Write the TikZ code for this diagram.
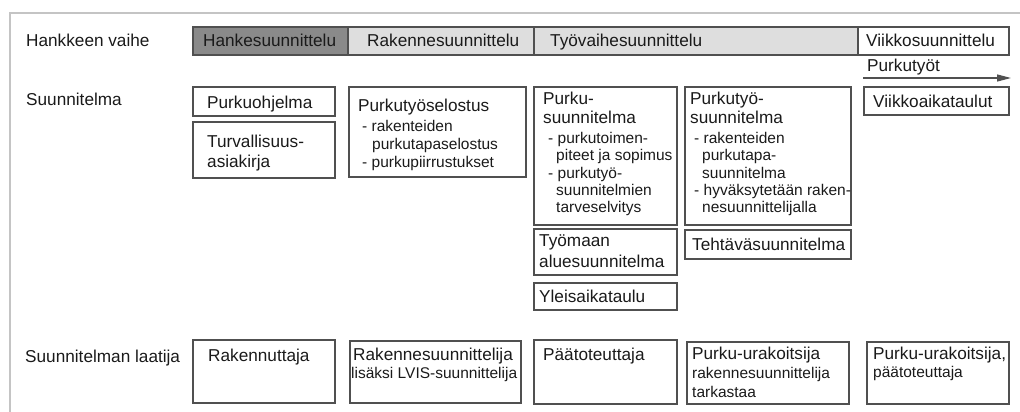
\documentclass[tikz,border=0pt]{standalone}
\usepackage{fontspec}
\setmainfont{Liberation Sans}
\usetikzlibrary{arrows.meta}
\definecolor{framecol}{HTML}{C4C4C4}
\definecolor{edgecol}{HTML}{505050}
\definecolor{txtcol}{HTML}{1A1A1A}
\definecolor{hankegray}{HTML}{8A8A8A}
\definecolor{lightband}{HTML}{DEDEDE}
\tikzset{
  box/.style={draw=edgecol, line width=1.1pt, inner sep=0pt, outer sep=0pt, anchor=north west},
  mt/.style={anchor=base west, inner sep=0pt, text=txtcol, font=\fontsize{17.2}{19}\selectfont},
  st/.style={anchor=base west, inner sep=0pt, text=txtcol, font=\fontsize{15.5}{18}\selectfont},
}
\newcommand\bx[5]{\node[box, minimum width={#4-#2}, minimum height={#5-#3}] (#1) at (#2,#3) {};}
\begin{document}
\begin{tikzpicture}[x=1pt,y=-1pt]
\useasboundingbox (0,0) rectangle (1020,412);
% outer frame
\coordinate (fa) at (1020,13);
\coordinate (fb) at (10,13);
\coordinate (fc) at (10,412);
\draw[framecol, line width=1.3pt] (fa) -- (fb) -- (fc);

% row labels
\node[mt] (l1) at (26,47) {Hankkeen vaihe};
\node[mt] (l2) at (26,106) {Suunnitelma};
\node[mt] (l3) at (25,362) {Suunnitelman laatija};

% phase band
\node[box, fill=hankegray, minimum width=155, minimum height=28] (ph1) at (193,27) {};
\node[box, fill=lightband, minimum width=186, minimum height=28] (ph2) at (348,27) {};
\node[box, fill=lightband, minimum width=324, minimum height=28] (ph3) at (534,27) {};
\node[box, fill=white, minimum width=151, minimum height=28] (ph4) at (858,27) {};
\node[mt] (t1) at (203,47) {Hankesuunnittelu};
\node[mt] (t2) at (367,47) {Rakennesuunnittelu};
\node[mt] (t3) at (550,47) {Työvaihesuunnittelu};
\node[mt] (t4) at (866,47) {Viikkosuunnittelu};

% Purkutyot arrow
\node[mt] (pk) at (867,72) {Purkutyöt};
\coordinate (as) at (863,78);
\coordinate (ae) at (1011,78);
\draw[edgecol, line width=1.3pt, -{Triangle[length=14pt,width=7pt]}] (as) -- (ae);

% row 2
\bx{bpo}{193}{87}{335}{116}
\node[mt] (po) at (207,108) {Purkuohjelma};
\bx{btu}{193}{122}{335}{178}
\node[mt] (tu1) at (207,147) {Turvallisuus-};
\node[mt] (tu2) at (207,167) {asiakirja};

\bx{bps}{349}{87}{526}{177}
\node[mt] (ps0) at (358,111) {Purkutyöselostus};
\node[st] (ps1) at (362,131) {- rakenteiden};
\node[st] (ps2) at (372,149) {purkutapaselostus};
\node[st] (ps3) at (362,167) {- purkupiirrustukset};

\bx{bpu}{534}{87}{677}{225}
\node[mt] (pu0) at (543,104) {Purku-};
\node[mt] (pu1) at (543,123) {suunnitelma};
\node[st] (pu2) at (548,143) {- purkutoimen-};
\node[st] (pu3) at (556,160) {piteet ja sopimus};
\node[st] (pu4) at (548,178) {- purkutyö-};
\node[st] (pu5) at (556,195) {suunnitelmien};
\node[st] (pu6) at (556,212) {tarveselvitys};

\bx{bpt}{685}{87}{851}{225}
\node[mt] (pt0) at (690,104) {Purkutyö-};
\node[mt] (pt1) at (690,123) {suunnitelma};
\node[st] (pt2) at (694,143) {- rakenteiden};
\node[st] (pt3) at (702,160) {purkutapa-};
\node[st] (pt4) at (702,178) {suunnitelma};
\node[st] (pt5) at (694,195) {- hyväksytetään raken-};
\node[st] (pt6) at (702,212) {nesuunnittelijalla};

\bx{bva}{864}{87}{1009}{115}
\node[mt] (va) at (873,107) {Viikkoaikataulut};

% row 3
\bx{bty}{534}{229}{677}{275}
\node[mt] (ty1) at (539,246) {Työmaan};
\node[mt] (ty2) at (539,267) {aluesuunnitelma};
\bx{byl}{534}{283}{677}{310}
\node[mt] (yl) at (539,302) {Yleisaikataulu};
\bx{bte}{685}{230}{851}{259}
\node[mt] (te) at (692,250) {Tehtäväsuunnitelma};

% row 4
\bx{brn}{193}{340}{335}{403}
\node[mt] (rn) at (208,361) {Rakennuttaja};
\bx{brs}{350}{341}{521}{403}
\node[mt] (rs1) at (353,360) {Rakennesuunnittelija};
\node[st] (rs2) at (351,378) {lisäksi LVIS-suunnittelija};
\bx{bpa}{534}{340}{677}{404}
\node[mt] (pa) at (543,360) {Päätoteuttaja};
\bx{bpk}{687}{342}{849}{404}
\node[mt] (pk1) at (692,359) {Purku-urakoitsija};
\node[st] (pk2) at (692,378) {rakennesuunnittelija};
\node[st] (pk3) at (692,397) {tarkastaa};
\bx{bpp}{867}{342}{1009}{404}
\node[mt] (pp1) at (873,359) {Purku-urakoitsija,};
\node[st] (pp2) at (873,377) {päätoteuttaja};
\end{tikzpicture}
\end{document}
